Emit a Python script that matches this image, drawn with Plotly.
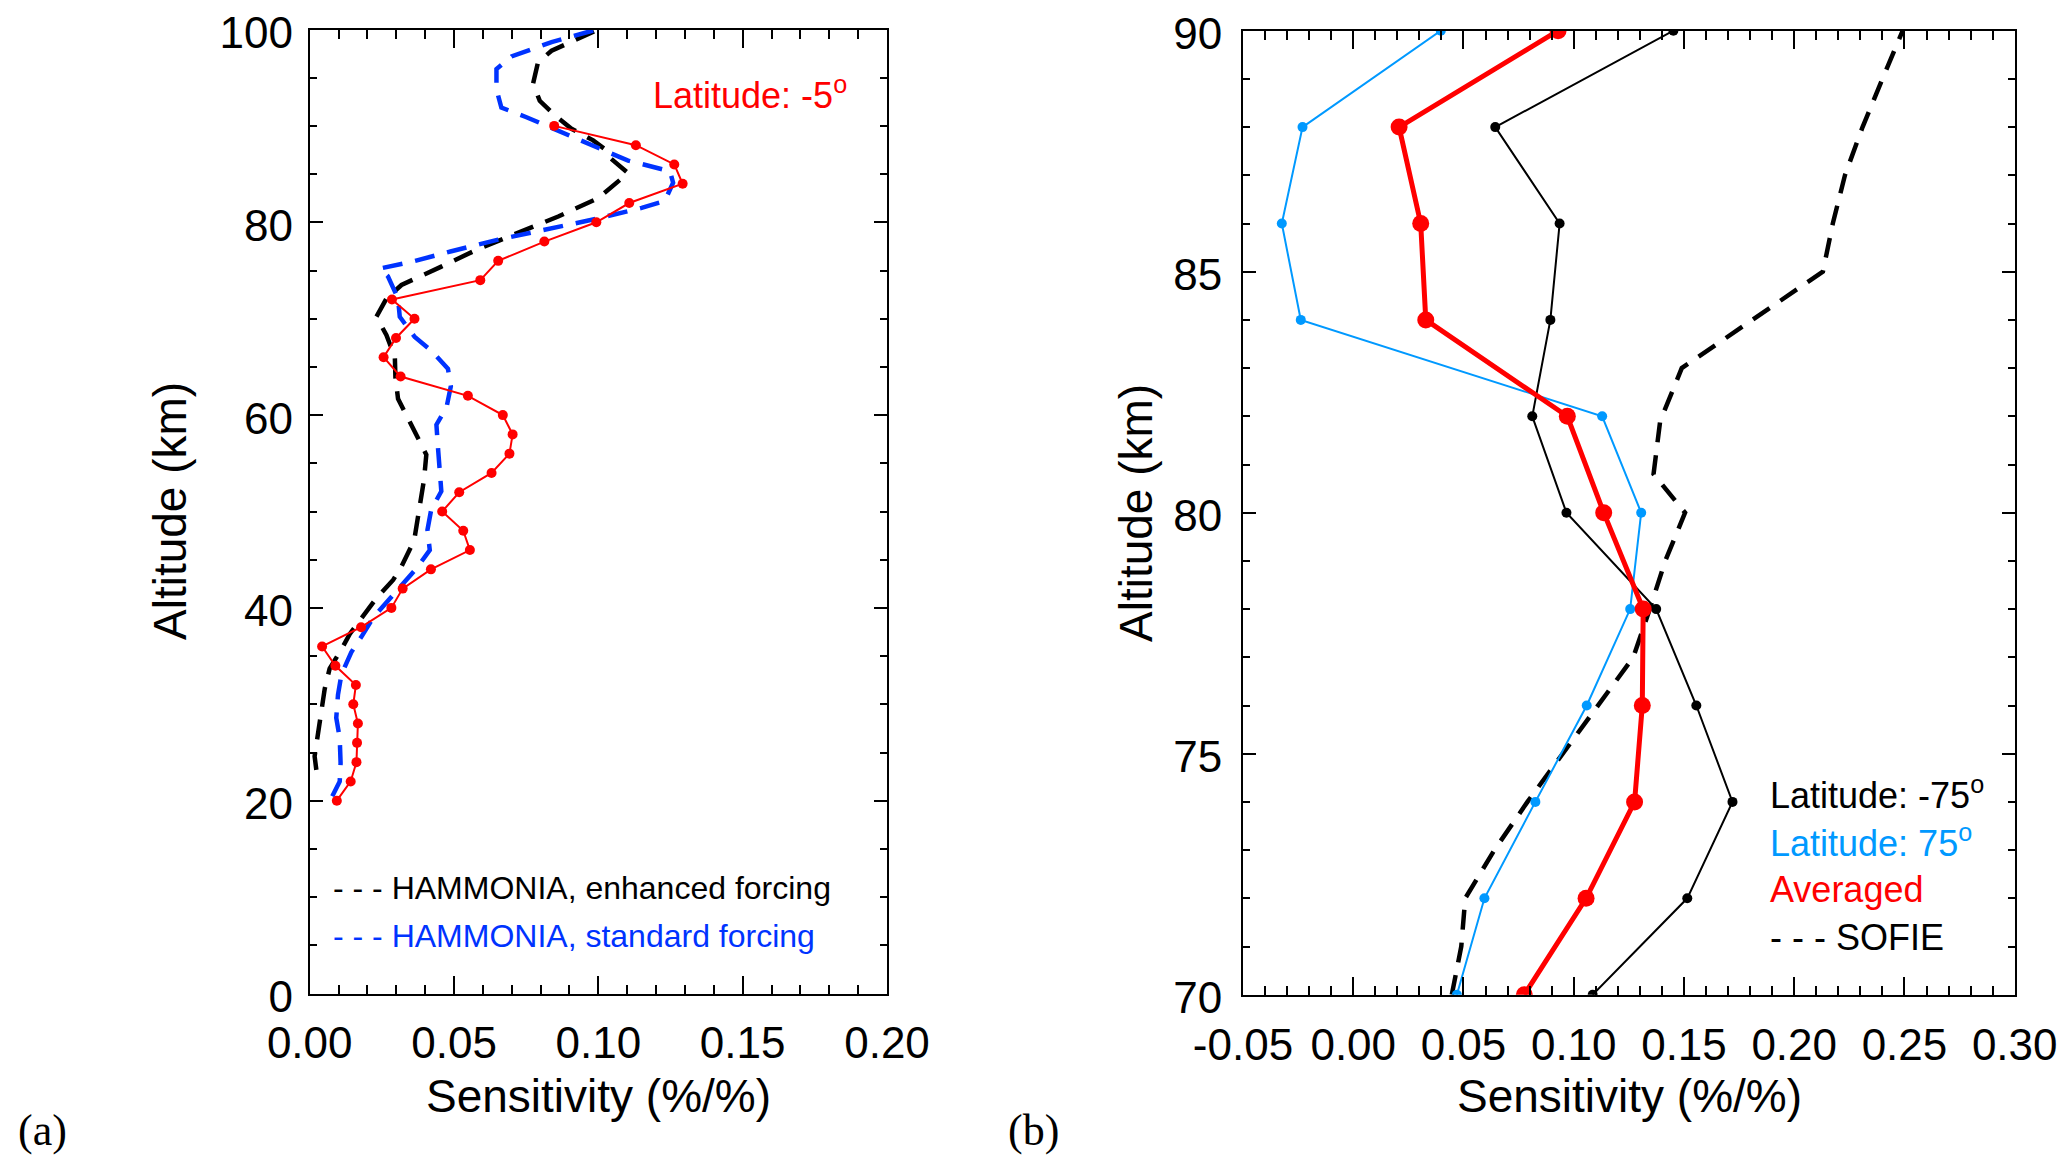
import plotly.graph_objects as go

W, H = 2067, 1158

# ---- panel (a): latitude -5 deg ----
alt_a = list(range(20, 92, 2))
sens_a = [0.0094, 0.0142, 0.0162, 0.0164, 0.0167, 0.0151, 0.0160, 0.0089, 0.0043, 0.0178,
          0.0283, 0.0322, 0.0420, 0.0555, 0.0532, 0.0459, 0.0518, 0.0630, 0.0692, 0.0703,
          0.0669, 0.0548, 0.0315, 0.0256, 0.0299, 0.0363, 0.0285, 0.0591, 0.0653, 0.0813,
          0.0993, 0.1107, 0.1292, 0.1263, 0.1130, 0.0847]

# HAMMONIA, enhanced forcing
alt_enh = [99.8, 97.8, 96.6, 94.4, 92.6, 91.1, 89.7, 88.5, 87.6, 86.7, 85.1, 84.1, 82.5,
           80.6, 78.9, 77.3, 75.4, 73.5, 72.1, 70.2, 68.3, 66.0, 63.9, 61.7, 59.7, 57.5,
           55.9, 53.3, 51.2, 48.1, 47.0, 44.3, 42.9, 41.0, 39.4, 37.3, 35.7, 33.7, 31.6,
           29.1, 27.2, 24.6, 23.2]
sens_enh = [0.0985, 0.0838, 0.0791, 0.0774, 0.0797, 0.0849, 0.0907, 0.0982, 0.1022, 0.1040,
            0.1103, 0.1063, 0.0999, 0.0861, 0.0722, 0.0589, 0.0456, 0.0318, 0.0266, 0.0231,
            0.0266, 0.0295, 0.0297, 0.0306, 0.0340, 0.0375, 0.0404, 0.0396, 0.0385, 0.0370,
            0.0362, 0.0318, 0.0289, 0.0231, 0.0190, 0.0139, 0.0110, 0.0069, 0.0052, 0.0040,
            0.0029, 0.0017, 0.0023]

# HAMMONIA, standard forcing
alt_std = [99.9, 98.7, 97.2, 95.9, 93.8, 91.9, 90.9, 88.5, 86.4, 85.3, 84.1, 82.2, 81.5,
           80.4, 79.4, 78.2, 77.0, 75.9, 75.2, 74.4, 72.1, 70.2, 68.1, 66.7, 64.8, 63.0,
           60.8, 59.0, 56.4, 52.1, 50.2, 48.1, 46.0, 44.1, 42.5, 40.6, 39.0, 37.0, 35.4,
           33.1, 31.0, 28.6, 26.5, 23.9, 22.0, 19.9]
sens_std = [0.0982, 0.0838, 0.0699, 0.0647, 0.0647, 0.0664, 0.0751, 0.0941, 0.1103, 0.1248,
            0.1259, 0.1230, 0.1150, 0.0999, 0.0838, 0.0653, 0.0491, 0.0352, 0.0243, 0.0271,
            0.0306, 0.0312, 0.0364, 0.0421, 0.0479, 0.0489, 0.0474, 0.0439, 0.0445, 0.0456,
            0.0421, 0.0408, 0.0416, 0.0370, 0.0323, 0.0266, 0.0220, 0.0179, 0.0144, 0.0110,
            0.0098, 0.0092, 0.0104, 0.0107, 0.0104, 0.0069]

# ---- panel (b) ----
alt_b = list(range(70, 92, 2))
sens_south = [0.1086, 0.1515, 0.1720, 0.1556, 0.1374, 0.0967, 0.0812, 0.0894, 0.0936, 0.0644, 0.1452]
sens_north = [0.0470, 0.0595, 0.0826, 0.1059, 0.1256, 0.1306, 0.1129, -0.0238, -0.0324, -0.0230, 0.0397]
sens_avg = [0.0776, 0.1056, 0.1276, 0.1311, 0.1315, 0.1136, 0.0971, 0.0329, 0.0306, 0.0208, 0.0929]

alt_sofie = [70.0, 71.0, 72.0, 73.0, 74.0, 75.0, 76.0, 77.0, 78.0, 79.0, 80.0, 80.8, 81.9,
             83.0, 85.0, 86.0, 87.0, 88.0, 89.0, 90.0]
sens_sofie = [0.0447, 0.0490, 0.0508, 0.0640, 0.0790, 0.0950, 0.1110, 0.1270, 0.1345, 0.1415,
              0.1505, 0.1362, 0.1392, 0.1490, 0.2130, 0.2175, 0.2230, 0.2310, 0.2400, 0.2492]

xticks_a = [0.0, 0.05, 0.10, 0.15, 0.20]
xlabels_a = ["0.00", "0.05", "0.10", "0.15", "0.20"]
xticks_b = [-0.05, 0.0, 0.05, 0.10, 0.15, 0.20, 0.25, 0.30]
xlabels_b = ["-0.05", "0.00", "0.05", "0.10", "0.15", "0.20", "0.25", "0.30"]

RED = "rgb(255,0,0)"
BLUE = "rgb(0,51,255)"
LBLUE = "rgb(0,153,255)"
FONT = "Liberation Sans"
DASH = "20px,13px"


def px(x):
    return x / W


def py(y):
    return 1 - y / H


fig = go.Figure()

fig.add_trace(go.Scatter(x=sens_enh, y=alt_enh, mode="lines", xaxis="x", yaxis="y",
                         line=dict(color="black", width=4.5, dash=DASH)))
fig.add_trace(go.Scatter(x=sens_std, y=alt_std, mode="lines", xaxis="x", yaxis="y",
                         line=dict(color=BLUE, width=4.5, dash=DASH)))
fig.add_trace(go.Scatter(x=sens_a, y=alt_a, mode="lines+markers", xaxis="x", yaxis="y",
                         line=dict(color=RED, width=2), marker=dict(color=RED, size=10)))

fig.add_trace(go.Scatter(x=sens_sofie, y=alt_sofie, mode="lines", xaxis="x2", yaxis="y2",
                         line=dict(color="black", width=4.5, dash=DASH)))
fig.add_trace(go.Scatter(x=sens_north, y=alt_b, mode="lines+markers", xaxis="x2", yaxis="y2",
                         line=dict(color=LBLUE, width=2), marker=dict(color=LBLUE, size=10)))
fig.add_trace(go.Scatter(x=sens_south, y=alt_b, mode="lines+markers", xaxis="x2", yaxis="y2",
                         line=dict(color="black", width=2), marker=dict(color="black", size=10)))
fig.add_trace(go.Scatter(x=sens_avg, y=alt_b, mode="lines+markers", xaxis="x2", yaxis="y2",
                         line=dict(color=RED, width=5), marker=dict(color=RED, size=17)))

tickfont = dict(family=FONT, size=44, color="black")
common = dict(showline=True, linecolor="black", linewidth=2, mirror="allticks",
              ticks="inside", tickwidth=1.5, tickcolor="black", showgrid=False,
              zeroline=False, tickfont=tickfont, automargin=False,
              ticklabeloverflow="allow")

fig.update_layout(
    template="none",
    width=W, height=H,
    paper_bgcolor="white", plot_bgcolor="white",
    showlegend=False,
    margin=dict(l=0, r=0, t=0, b=0, pad=0),
    xaxis=dict(domain=[px(301.7), px(879)], range=[0, 0.2], tickvals=xticks_a,
               ticktext=xlabels_a, ticklen=18, ticklabelstandoff=10,
               minor=dict(dtick=0.01, ticks="inside", ticklen=9, tickwidth=1.5,
                          tickcolor="black"),
               anchor="y", **common),
    yaxis=dict(domain=[py(985.5), py(21.5)], range=[0, 100], dtick=20, ticklen=13,
               ticklabelstandoff=6, ticklabelshift=3,
               minor=dict(dtick=5, ticks="inside", ticklen=7, tickwidth=1.5,
                          tickcolor="black"),
               anchor="x", **common),
    xaxis2=dict(domain=[px(1235), px(2006.7)], range=[-0.05, 0.30], tickvals=xticks_b,
                ticktext=xlabels_b, ticklen=18, ticklabelstandoff=10,
                minor=dict(dtick=0.01, ticks="inside", ticklen=9, tickwidth=1.5,
                           tickcolor="black"),
                anchor="y2", **common),
    yaxis2=dict(domain=[py(986.7), py(22.7)], range=[70, 90], dtick=5, ticklen=13,
                ticklabelstandoff=10, ticklabelshift=3,
                minor=dict(dtick=1, ticks="inside", ticklen=7, tickwidth=1.5,
                           tickcolor="black"),
                anchor="x2", **common),
)

ann = []
title_font = dict(family=FONT, size=46, color="black")
ann.append(dict(text="Sensitivity (%/%)", x=px(590), y=py(1088), font=title_font))
ann.append(dict(text="Sensitivity (%/%)", x=px(1621), y=py(1088), font=title_font))
ann.append(dict(text="Altitude (km)", x=px(162), y=py(503), textangle=-90, font=title_font))
ann.append(dict(text="Altitude (km)", x=px(1128), y=py(505), textangle=-90, font=title_font))

ann.append(dict(text="Latitude: -5<sup>o</sup>", x=px(643), y=py(85), xanchor="left",
                font=dict(family=FONT, size=36, color=RED)))

leg_a = dict(family=FONT, size=32)
ann.append(dict(text="- - - HAMMONIA, enhanced forcing", x=px(323), y=py(880),
                xanchor="left", font=dict(leg_a, color="black")))
ann.append(dict(text="- - - HAMMONIA, standard forcing", x=px(323), y=py(928),
                xanchor="left", font=dict(leg_a, color=BLUE)))

leg_b = dict(family=FONT, size=36)
ann.append(dict(text="Latitude: -75<sup>o</sup>", x=px(1760), y=py(785), xanchor="left",
                font=dict(leg_b, color="black")))
ann.append(dict(text="Latitude: 75<sup>o</sup>", x=px(1760), y=py(833), xanchor="left",
                font=dict(leg_b, color=LBLUE)))
ann.append(dict(text="Averaged", x=px(1760), y=py(881), xanchor="left",
                font=dict(leg_b, color=RED)))
ann.append(dict(text="- - - SOFIE", x=px(1760), y=py(929), xanchor="left",
                font=dict(leg_b, color="black")))

ann.append(dict(text="(a)", x=px(8), y=py(1122), xanchor="left",
                font=dict(family="Liberation Serif", size=44, color="black")))
ann.append(dict(text="(b)", x=px(998), y=py(1122), xanchor="left",
                font=dict(family="Liberation Serif", size=44, color="black")))

for a in ann:
    a.update(xref="paper", yref="paper", showarrow=False)
    a.setdefault("xanchor", "center")
    a.setdefault("yanchor", "middle")
fig.update_layout(annotations=ann)

fig.write_html("out.html")
